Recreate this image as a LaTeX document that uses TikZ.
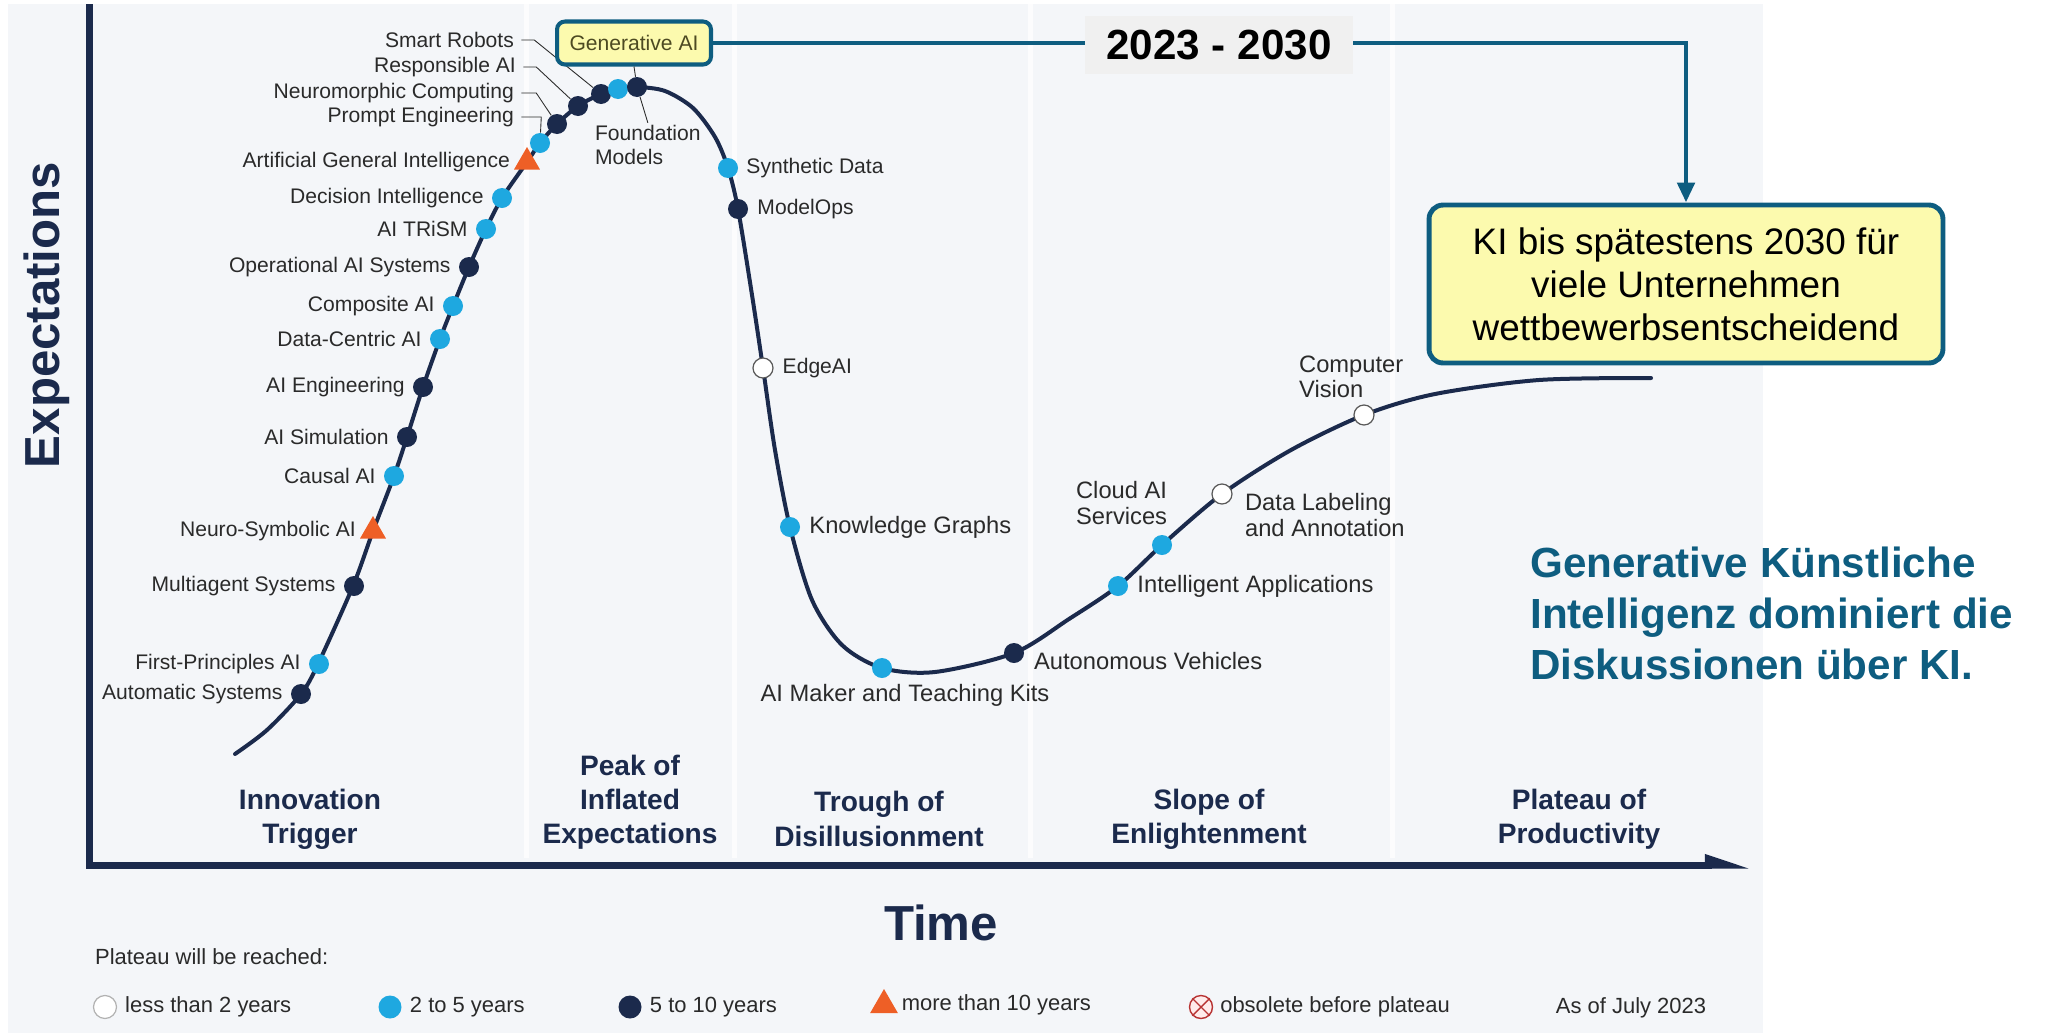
\documentclass[tikz,border=0pt]{standalone}
\usepackage{fontspec}
\setmainfont{Liberation Sans}
\usetikzlibrary{shapes.geometric, arrows.meta, positioning}

\definecolor{navy}{HTML}{1B2A4C}
\definecolor{skyblue}{HTML}{1EA8E0}
\definecolor{hypeorange}{HTML}{EE5F26}
\definecolor{panelgrey}{HTML}{F4F6F9}
\definecolor{petrol}{HTML}{0E5D80}
\definecolor{notepaper}{HTML}{FCFAAE}
\definecolor{labelgrey}{HTML}{2A2A2A}
\definecolor{olivetext}{HTML}{4D4A22}

\tikzset{
    darkdot/.style = {
        circle, fill=navy,
        minimum size=0.4cm, inner sep=0pt
    },
    bluedot/.style = {
        circle, fill=skyblue,
        minimum size=0.4cm, inner sep=0pt
    },
    whitedot/.style = {
        circle, fill=white, draw=gray!70!black, line width=0.7pt,
        minimum size=0.4cm, inner sep=0pt
    },
    tridot/.style = {
        regular polygon, regular polygon sides=3, fill=hypeorange,
        minimum size=0.6cm, inner sep=0pt
    },
    gonedot/.style = {
        circle, fill=red!8, draw=red!65!black!80, line width=0.8pt,
        minimum size=0.46cm, inner sep=0pt
    },
    techlabel/.style = {
        font=\fontsize{12}{14}\selectfont, text=labelgrey,
        inner sep=1pt, align=left
    },
    widelabel/.style = {
        techlabel, font=\fontsize{13.5}{14.5}\selectfont
    },
    legendtext/.style = {
        font=\fontsize{12.5}{14}\selectfont, text=labelgrey,
        inner sep=1pt
    },
    phaselabel/.style = {
        font=\fontsize{16}{19.5}\selectfont\bfseries, text=navy,
        align=center
    },
    axistitle/.style = {
        font=\fontsize{28}{30}\selectfont\bfseries, text=navy
    },
    axisline/.style = {
        navy, line width=0.14cm,
        -{Triangle[harpoon, length=0.7cm, width=0.4cm]}
    },
    phasesep/.style = {
        white, opacity=0.75, line width=0.1cm
    },
    hypecurve/.style = {
        navy, line width=0.08cm, line cap=round
    },
    leaderline/.style = {
        labelgrey, line width=0.5pt
    },
    genbox/.style = {
        rectangle, rounded corners=0.16cm,
        draw=petrol, line width=2.3pt, fill=notepaper,
        text=olivetext, font=\fontsize{12}{14}\selectfont,
        minimum width=3.08cm, minimum height=0.86cm
    },
    notebox/.style = {
        rectangle, rounded corners=0.28cm,
        draw=petrol, line width=2.8pt, fill=notepaper,
        font=\fontsize{21}{24.5}\selectfont, align=center,
        minimum width=10.28cm, minimum height=3.16cm
    },
    periodbox/.style = {
        rectangle, fill=black!6,
        font=\fontsize{24}{26}\selectfont\bfseries,
        minimum width=5.38cm, minimum height=1.16cm
    },
    statement/.style = {
        font=\fontsize{24}{29}\selectfont\bfseries, text=petrol,
        align=left, inner sep=0pt
    },
    linkarrow/.style = {
        petrol, line width=2.8pt,
        -{Triangle[length=0.4cm, width=0.34cm]}
    }
}

\begin{document}
\begin{tikzpicture}[x=0.02cm, y=-0.02cm]

\useasboundingbox (0,0) rectangle (2045,1035);
\fill [white] (0,0) rectangle (2045,1035);
\fill [panelgrey] (8,4) rectangle (1763,1033);
\foreach \x in {526, 734, 1030, 1392}
    \draw [phasesep] (\x,4) -- (\x,858);

% axes
\coordinate (ytop) at (89,4);
\coordinate (origin) at (89,865);
\coordinate (xend) at (1752,865);
\draw [axisline] (ytop) -- (origin) -- (xend);

\node (expect) [axistitle, rotate=90] at (47,315) {Expectations};
\node (time) [axistitle] at (941,923) {Time};

\node (trigger) [phaselabel] at (310,819) {Innovation\\Trigger};
\node (peak) [phaselabel] at (630,802) {Peak of\\Inflated\\Expectations};
\node (trough) [phaselabel] at (879,819) {Trough of\\Disillusionment};
\node (slope) [phaselabel] at (1209,819) {Slope of\\Enlightenment};
\node (plateau) [phaselabel] at (1579,819) {Plateau of\\Productivity};

% hype cycle
\draw [hypecurve] plot [smooth] coordinates {
    (235,754) (267,730) (301,694) (318,664) (353,586) (373,531) (394,476)
    (407,437) (423,387) (440,339) (453,306) (469,267) (486,229) (502,198)
    (527,162) (540,143) (557,124) (578,106) (601,94) (618,89) (637,87)
    (665,91) (693,108) (715,137) (728,168) (738,209) (752,295) (763,368)
    (775,450) (790,527) (812,600) (842,645) (882,668) (935,672) (1014,653)
    (1069,619) (1118,586) (1162,545) (1222,494) (1291,450) (1364,415)
    (1435,394) (1539,380) (1651,378)};

% rising slope
\node (autosys) [darkdot] at (301,694) {};
\node (firstprin) [bluedot] at (319,664) {};
\node (multiagent) [darkdot] at (354,586) {};
\node (neurosym) [tridot] at (373,531) {};
\node (causal) [bluedot] at (394,476) {};
\node (aisim) [darkdot] at (407,437) {};
\node (aieng) [darkdot] at (423,387) {};
\node (datacentric) [bluedot] at (440,339) {};
\node (composite) [bluedot] at (453,306) {};
\node (opsys) [darkdot] at (469,267) {};
\node (trism) [bluedot] at (486,229) {};
\node (decision) [bluedot] at (502,198) {};
\node (agi) [tridot] at (527,162) {};
\node (prompt) [bluedot] at (540,143) {};
\node (neuromorph) [darkdot] at (557,124) {};
\node (responsible) [darkdot] at (578,106) {};
\node (robots) [darkdot] at (601,94) {};
\node (genai) [bluedot] at (618,89) {};
\node (foundation) [darkdot] at (637,87) {};

\node (autosyslbl) [techlabel, left=0.12cm of autosys] {Automatic Systems};
\node (firstprinlbl) [techlabel, left=0.12cm of firstprin] {First-Principles AI};
\node (multiagentlbl) [techlabel, left=0.12cm of multiagent] {Multiagent Systems};
\node (neurosymlbl) [techlabel, left=0.12cm of neurosym] {Neuro-Symbolic AI};
\node (causallbl) [techlabel, left=0.12cm of causal] {Causal AI};
\node (aisimlbl) [techlabel, left=0.12cm of aisim] {AI Simulation};
\node (aienglbl) [techlabel, left=0.12cm of aieng] {AI Engineering};
\node (datacentriclbl) [techlabel, left=0.12cm of datacentric] {Data-Centric AI};
\node (compositelbl) [techlabel, left=0.12cm of composite] {Composite AI};
\node (opsyslbl) [techlabel, left=0.12cm of opsys] {Operational AI Systems};
\node (trismlbl) [techlabel, left=0.12cm of trism] {AI TRiSM};
\node (decisionlbl) [techlabel, left=0.12cm of decision] {Decision Intelligence};
\node (agilbl) [techlabel, left=0.12cm of agi] {Artificial General Intelligence};

\node (robotslbl) [techlabel, anchor=east] at (516,40) {Smart Robots};
\node (responsiblelbl) [techlabel, anchor=east] at (518,67) {Responsible AI};
\node (neuromorphlbl) [techlabel, anchor=east] at (516,93) {Neuromorphic Computing};
\node (promptlbl) [techlabel, anchor=east] at (516,117) {Prompt Engineering};
\node (foundationlbl) [techlabel, anchor=west] at (593,145) {Foundation\\Models};

\draw [leaderline] ([xshift=3pt]robotslbl.east) -- ++(13,0) -- (robots);
\draw [leaderline] ([xshift=3pt]responsiblelbl.east) -- ++(13,0) -- (responsible);
\draw [leaderline] ([xshift=3pt]neuromorphlbl.east) -- ++(15,0) -- (neuromorph);
\draw [leaderline] ([xshift=3pt]promptlbl.east) -- ++(20,0) -- (prompt);
\draw [leaderline] (foundationlbl.north) -- (foundation);

% falling slope, trough and recovery
\node (synthetic) [bluedot] at (728,168) {};
\node (modelops) [darkdot] at (738,209) {};
\node (edgeai) [whitedot] at (763,368) {};
\node (knowledge) [bluedot] at (790,527) {};
\node (aimaker) [bluedot] at (882,668) {};
\node (autonomous) [darkdot] at (1014,653) {};
\node (intelapps) [bluedot] at (1118,586) {};
\node (cloudai) [bluedot] at (1162,545) {};
\node (datalabel) [whitedot] at (1222,494) {};
\node (compvision) [whitedot] at (1364,415) {};

\node (syntheticlbl) [techlabel, right=0.12cm of synthetic] {Synthetic Data};
\node (modelopslbl) [techlabel, right=0.14cm of modelops] {ModelOps};
\node (edgeailbl) [techlabel, right=0.14cm of edgeai] {EdgeAI};
\node (knowledgelbl) [widelabel, right=0.14cm of knowledge] {Knowledge Graphs};
\node (aimakerlbl) [widelabel] at (905,695) {AI Maker and Teaching Kits};
\node (autonomouslbl) [widelabel, anchor=west] at (1032,661) {Autonomous Vehicles};
\node (intelappslbl) [widelabel, right=0.14cm of intelapps] {Intelligent Applications};
\node (cloudailbl) [widelabel, anchor=west] at (1074,503) {Cloud AI\\Services};
\node (datalabellbl) [widelabel, anchor=west] at (1243,515) {Data Labeling\\and Annotation};
\node (compvisionlbl) [widelabel, anchor=west] at (1297,377) {Computer\\Vision};

% highlight and note
\node (genaibox) [genbox] at (634,43) {Generative AI};
\draw [leaderline] (genaibox.south) -- (foundation);

\node (note) [notebox] at (1686,284) {KI bis spätestens 2030 für\\viele Unternehmen\\wettbewerbsentscheidend};
\coordinate (corner) at (1686,43);
\draw [linkarrow] (genaibox.east) -- (corner) -- (note.north);
\node (period) [periodbox] at (1219,45) {2023 - 2030};

\node (headline) [statement, anchor=west] at (1530,613) {Generative Künstliche\\Intelligenz dominiert die\\Diskussionen über KI.};

% legend
\node (legendtitle) [legendtext, anchor=west] at (93,957) {Plateau will be reached:};
\node (lessthan2) [whitedot, draw=gray!60, minimum size=0.46cm] at (105,1007) {};
\node (lessthan2lbl) [legendtext, right=0.12cm of lessthan2] {less than 2 years};
\node (twotofive) [bluedot, minimum size=0.46cm] at (390,1007) {};
\node (twotofivelbl) [legendtext, right=0.12cm of twotofive] {2 to 5 years};
\node (fivetoten) [darkdot, minimum size=0.46cm] at (630,1007) {};
\node (fivetotenlbl) [legendtext, right=0.12cm of fivetoten] {5 to 10 years};
\node (morethan10) [tridot, minimum size=0.64cm] at (884,1005) {};
\node (morethan10lbl) [legendtext, right=0.12cm of morethan10] {more than 10 years};
\node (obsolete) [gonedot] at (1201,1007) {};
\draw [red!65!black!80, line width=0.8pt] (obsolete.north west) -- (obsolete.south east)
    (obsolete.north east) -- (obsolete.south west);
\node (obsoletelbl) [legendtext, right=0.1cm of obsolete] {obsolete before plateau};
\node (asof) [legendtext] at (1631,1008) {As of July 2023};

\end{tikzpicture}
\end{document}
